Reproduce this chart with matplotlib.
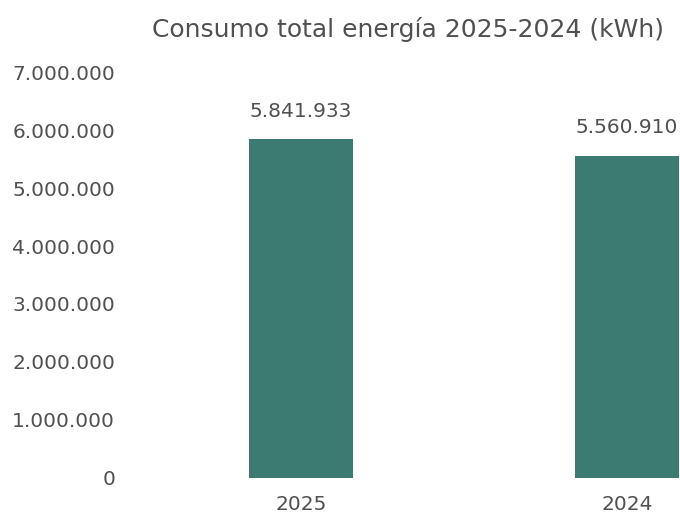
import matplotlib.pyplot as plt
from matplotlib.ticker import FuncFormatter, MultipleLocator

plt.rcParams["font.family"] = ["DejaVu Sans"]

# Datos
years = ["2025", "2024"]
consumo_kwh = [5841933, 5560910]

bar_color = "#3b7b72"
text_color = "#505050"


def fmt_miles(v, pos=None):
    return f"{int(round(v)):,}".replace(",", ".")


fig = plt.figure(figsize=(6.8, 5.15), dpi=100)
ax = fig.add_axes([0.2, 0.072, 0.8, 0.788])

x = range(len(years))
bars = ax.bar(x, consumo_kwh, width=0.32, color=bar_color)

for rect, v in zip(bars, consumo_kwh):
    ax.annotate(
        fmt_miles(v),
        xy=(rect.get_x() + rect.get_width() / 2, rect.get_height()),
        xytext=(0, 13),
        textcoords="offset points",
        ha="center",
        va="bottom",
        fontsize=14.5,
        color=text_color,
    )

ax.set_xlim(-0.505, 1.163)
ax.set_ylim(0, 7000000)
ax.yaxis.set_major_locator(MultipleLocator(1000000))
ax.yaxis.set_major_formatter(FuncFormatter(fmt_miles))
ax.set_xticks(list(x))
ax.set_xticklabels(years)

ax.tick_params(axis="both", length=0, labelsize=14.5, labelcolor=text_color)
ax.tick_params(axis="y", pad=15)
ax.tick_params(axis="x", pad=12)
for s in ax.spines.values():
    s.set_visible(False)

ax.set_title("Consumo total energía 2025-2024 (kWh)", fontsize=18,
             color=text_color, pad=25)

fig.savefig("out.png", dpi=100)
